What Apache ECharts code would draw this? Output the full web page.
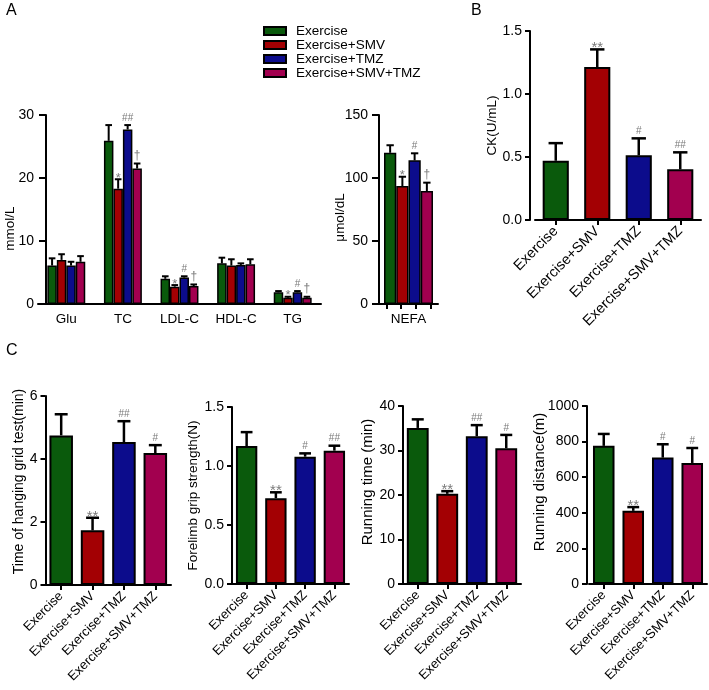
<!DOCTYPE html>
<html><head><meta charset="utf-8">
<script src="https://cdn.jsdelivr.net/npm/echarts@6/dist/echarts.min.js"></script>
<style>html,body{margin:0;padding:0;background:#fff}#c{width:709px;height:690px}#e{position:absolute;left:0;top:0;font:11px monospace;white-space:pre-wrap;width:700px}</style>
</head><body><div id="c"></div><div id="e"></div>
<script>
// ---------- data ----------
const groups = ['Exercise', 'Exercise+SMV', 'Exercise+TMZ', 'Exercise+SMV+TMZ'];
const colors = ['#0a5a0c', '#a30003', '#0c0c8c', '#a2004f'];

const lipidCats = ['Glu', 'TC', 'LDL-C', 'HDL-C', 'TG'];
const lipidEx = [6.1, 25.9, 4.0, 6.45, 1.85];
const lipidExSem = [1.15, 2.5, 0.4, 0.9, 0.2];
const lipidSmv = [7.0, 18.3, 2.75, 6.1, 1.0];
const lipidSmvSem = [0.9, 1.5, 0.25, 1.0, 0.15];
const lipidTmz = [6.1, 27.7, 4.2, 6.2, 1.85];
const lipidTmzSem = [0.6, 0.7, 0.2, 0.25, 0.2];
const lipidBoth = [6.7, 21.5, 2.85, 6.3, 1.0];
const lipidBothSem = [0.9, 0.8, 0.25, 0.8, 0.15];
const lipidExMark = ['', '', '', '', ''];
const lipidSmvMark = ['', '*', '*', '', '*'];
const lipidTmzMark = ['', '##', '#', '', '#'];
const lipidBothMark = ['', '\u2020', '\u2020', '', '\u2020'];

const nefa = [120, 93.6, 114, 89.7];
const nefaSem = [6, 7.4, 5.6, 6.6];
const nefaMark = ['', '*', '#', '\u2020'];

const ck = [0.47, 1.214, 0.513, 0.402];
const ckSem = [0.14, 0.14, 0.135, 0.135];
const ckMark = ['', '**', '#', '##'];

const hang = [4.75, 1.735, 4.54, 4.19];
const hangSem = [0.67, 0.4, 0.66, 0.25];
const hangMark = ['', '**', '##', '#'];

const grip = [1.169, 0.727, 1.079, 1.13];
const gripSem = [0.118, 0.05, 0.028, 0.042];
const gripMark = ['', '**', '#', '##'];

const runTime = [35.07, 20.26, 33.2, 30.5];
const runTimeSem = [1.93, 0.6, 2.5, 3.0];
const runTimeMark = ['', '**', '##', '#'];

const runDist = [776, 411, 710, 680];
const runDistSem = [67, 21, 75, 84];
const runDistMark = ['', '**', '#', '#'];

// ---------- helpers ----------
const FONT = "'Liberation Sans', Arial, sans-serif";
const chart = echarts.init(document.getElementById('c'), null, {renderer: 'canvas'});

function errSeries(means, sems, marks, k, n, gap, xi, yi, lw, capFrac, fs) {
  return {
    type: 'custom', xAxisIndex: xi, yAxisIndex: yi, z: 5, silent: true,
    data: means.map((m, i) => [i, m, m + sems[i]]),
    encode: {x: 0, y: [1, 2]},
    renderItem: function (params, api) {
      const i = api.value(0);
      const top = api.coord([i, api.value(2)]);
      const mid = api.coord([i, api.value(1)]);
      const band = api.size([1, 0])[0];
      const gw = band * (1 - gap);
      const bw = gw / n;
      const x = top[0] - gw / 2 + bw * (k + 0.5);
      const cw = bw * capFrac;
      const ch = [
        {type: 'line', shape: {x1: x, y1: mid[1], x2: x, y2: top[1]}, style: {stroke: '#000', lineWidth: lw}},
        {type: 'line', shape: {x1: x - cw / 2, y1: top[1], x2: x + cw / 2, y2: top[1]}, style: {stroke: '#000', lineWidth: lw}}
      ];
      const mk = marks[params.dataIndex];
      if (mk) {
        const star = mk.indexOf('*') >= 0;
        const dag = mk.indexOf('\u2020') >= 0;
        ch.push({type: 'text', style: {
          text: mk, x: x, y: top[1] + (star ? fs.star * 0.42 : -2),
          align: 'center', verticalAlign: 'bottom', fill: '#7a7a7a',
          fontSize: star ? fs.star : (dag ? fs.dag : fs.hash), fontFamily: FONT
        }});
      }
      return {type: 'group', children: ch};
    }
  };
}

function yAx(grid, max, interval, name, nameGap, opts) {
  opts = opts || {};
  return {
    type: 'value', gridIndex: grid, min: 0, max: max, interval: interval,
    offset: opts.offset || 0,
    name: name, nameLocation: 'middle', nameGap: nameGap, nameMoveOverlap: false,
    nameTextStyle: {color: '#000', fontSize: opts.nameSize || 13, fontFamily: FONT, padding: opts.pad || 0},
    axisLine: {show: true, lineStyle: {color: '#000', width: 2}},
    axisTick: {show: true, length: opts.tick || 5, lineStyle: {color: '#000', width: 2}},
    axisLabel: {color: '#000', fontSize: 14, fontFamily: FONT, margin: opts.margin || 8,
      formatter: opts.fmt || (v => String(v))},
    splitLine: {show: false}
  };
}

function xCat(grid, data, opts) {
  opts = opts || {};
  return {
    type: 'category', gridIndex: grid, data: data, position: 'bottom',
    axisLine: {show: opts.line !== false, lineStyle: {color: '#000', width: 2}},
    axisTick: {show: !!opts.tick, alignWithLabel: true, length: 5, lineStyle: {color: '#000', width: 2}},
    axisLabel: {show: opts.label !== false, color: '#000', fontSize: opts.size || 13, fontFamily: FONT,
      rotate: opts.rotate || 0, margin: opts.margin || 8, interval: 0},
    splitLine: {show: false}
  };
}

const fsA = {star: 13, hash: 10, dag: 12};
const fsC = {star: 15, hash: 10, dag: 12};

const lipidMeans = [lipidEx, lipidSmv, lipidTmz, lipidBoth];
const lipidSems = [lipidExSem, lipidSmvSem, lipidTmzSem, lipidBothSem];
const lipidMarks = [lipidExMark, lipidSmvMark, lipidTmzMark, lipidBothMark];

const series = [];
lipidMeans.forEach((m, k) => {
  series.push({type: 'bar', name: groups[k], xAxisIndex: 0, yAxisIndex: 0, data: m,
    barGap: '0%', barCategoryGap: '33%',
    itemStyle: {color: colors[k], borderColor: '#000', borderWidth: 1.5}});
});
lipidMeans.forEach((m, k) => series.push(errSeries(m, lipidSems[k], lipidMarks[k], k, 4, 0.33, 0, 0, 2, 0.7, fsA)));
nefa.forEach((v, k) => {
  series.push({type: 'bar', name: groups[k], xAxisIndex: 1, yAxisIndex: 1, data: [v],
    barGap: '0%', barCategoryGap: '17%',
    itemStyle: {color: colors[k], borderColor: '#000', borderWidth: 1.5}});
});
nefa.forEach((v, k) => series.push(errSeries([v], [nefaSem[k]], [nefaMark[k]], k, 4, 0.17, 1, 1, 2, 0.6, fsA)));

function single(vals, sems, marks, ai, gap) {
  series.push({type: 'bar', xAxisIndex: ai, yAxisIndex: ai, barCategoryGap: (gap * 100) + '%',
    data: vals.map((v, i) => ({value: v, itemStyle: {color: colors[i]}})),
    itemStyle: {borderColor: '#000', borderWidth: 2}});
  series.push(errSeries(vals, sems, marks, 0, 1, gap, ai, ai, 2.5, 0.55, fsC));
}
single(ck, ckSem, ckMark, 2, 0.37);
single(hang, hangSem, hangMark, 3, 0.25);
single(grip, gripSem, gripMark, 4, 0.27);
single(runTime, runTimeSem, runTimeMark, 5, 0.26);
single(runDist, runDistSem, runDistMark, 6, 0.27);

const f1 = v => v.toFixed(1);
const ttl = (t, l, tp) => ({text: t, left: l, top: tp, padding: 0, textStyle: {fontSize: 16, fontWeight: 'normal', color: '#000', fontFamily: FONT}});

const option = {
  animation: false,
  backgroundColor: '#fff',
  textStyle: {fontFamily: FONT},
  title: [ttl('A', 6, 3), ttl('B', 471, 3), ttl('C', 6, 343)],
  legend: {
    data: groups, orient: 'vertical', left: 263, top: 24, padding: 0,
    itemWidth: 22, itemHeight: 8, itemGap: 0, icon: 'rect', selectedMode: false,
    textStyle: {fontSize: 13.5, lineHeight: 13, color: '#000', fontFamily: FONT, padding: [0, 0, 0, 5]}
  },
  grid: [
    {left: 38, top: 115, width: 283, height: 189},
    {left: 379, top: 115, width: 59, height: 189},
    {left: 535, top: 31, width: 166, height: 189},
    {left: 45.5, top: 396, width: 125.5, height: 189},
    {left: 232, top: 407, width: 117, height: 177},
    {left: 403, top: 406, width: 118, height: 178},
    {left: 589, top: 406, width: 118, height: 178}
  ],
  xAxis: [
    xCat(0, lipidCats, {margin: 8, size: 13.5}),
    xCat(1, ['NEFA'], {margin: 8, size: 13.5}),
    xCat(2, groups, {tick: true, rotate: 45, margin: 9, size: 14.5}),
    xCat(3, groups, {tick: true, rotate: 45, margin: 9}),
    xCat(4, groups, {tick: true, rotate: 45, margin: 9}),
    xCat(5, groups, {tick: true, rotate: 45, margin: 9}),
    xCat(6, groups, {tick: true, rotate: 45, margin: 9}),
    xCat(1, groups, {tick: true, line: false, label: false})
  ],
  yAxis: [
    yAx(0, 30, 10, 'mmol/L', 29, {offset: -8, tick: 7, margin: 12, nameSize: 13.5, pad: [0, 38, 0, 0]}),
    yAx(1, 150, 50, '\u03bcmol/dL', 32, {tick: 7, margin: 11, nameSize: 13.5, pad: [0, 16, 0, 0]}),
    yAx(2, 1.5, 0.5, 'CK(U/mL)', 31, {offset: 5, fmt: f1, nameSize: 13.5}),
    yAx(3, 6, 2, 'Time of hanging grid test(min)', 19.5, {nameSize: 14, pad: [0, 0, 0, 18]}),
    yAx(4, 1.5, 0.5, 'Forelimb grip strength(N)', 32, {fmt: f1, nameSize: 13.5}),
    yAx(5, 40, 10, 'Running time (min)', 27.5, {nameSize: 15, pad: [0, 0, 0, 26]}),
    yAx(6, 1000, 200, 'Running distance(m)', 39.5, {offset: 2, nameSize: 15, pad: [0, 0, 0, 26]})
  ],
  series: series
};
try {
  chart.setOption(option);
} catch (e) {
  document.getElementById('e').textContent = String(e && e.stack || e);
}
</script></body></html>
